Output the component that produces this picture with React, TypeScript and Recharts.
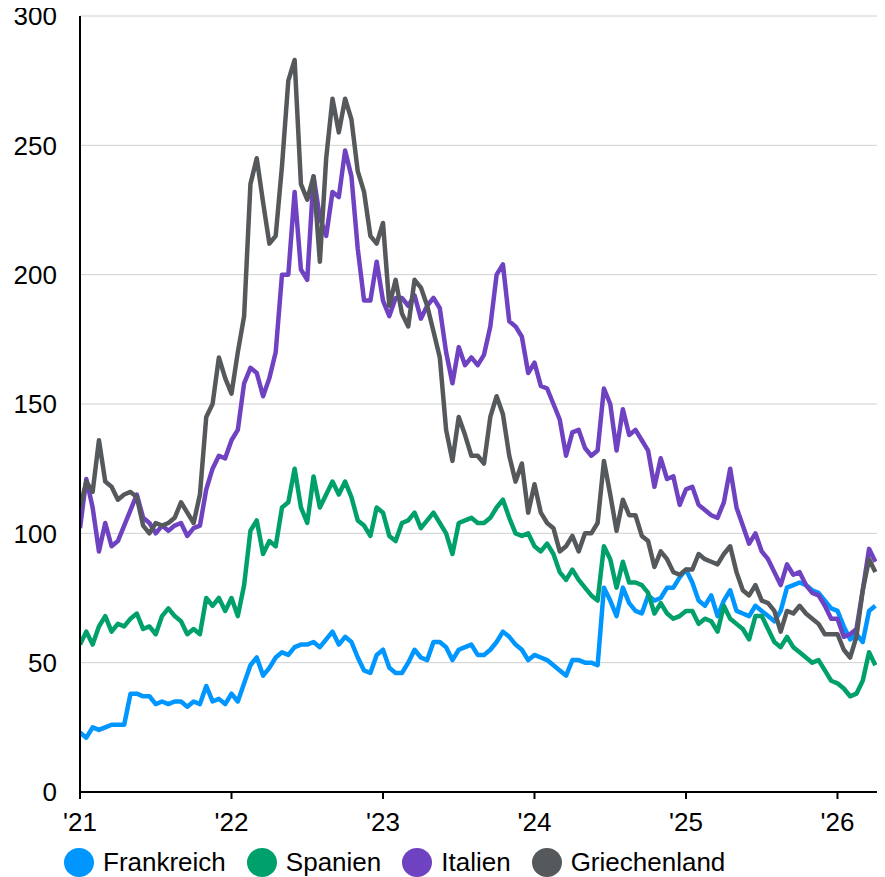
import { LineChart, Line, XAxis, YAxis, CartesianGrid } from "recharts";

const seriesNames = ["Frankreich", "Spanien", "Italien", "Griechenland"];
const seriesColors = ["#0096ff", "#00a06d", "#6f42c1", "#55595c"];
const yearTicks = [2021, 2022, 2023, 2024, 2025, 2026];
const yearLabels = ["'21", "'22", "'23", "'24", "'25", "'26"];
const valueTicks = [0, 50, 100, 150, 200, 250, 300];

// half-monthly readings, Jan 2021 .. Apr 2026
const frankreich = [
  23, 21, 25, 24, 25, 26, 26, 26, 38, 38,
  37, 37, 34, 35, 34, 35, 35, 33, 35, 34,
  41, 35, 36, 34, 38, 35, 42, 49, 52, 45,
  48, 52, 54, 53, 56, 57, 57, 58, 56, 59,
  62, 57, 60, 58, 52, 47, 46, 53, 55, 48,
  46, 46, 50, 55, 52, 51, 58, 58, 56, 51,
  55, 56, 57, 53, 53, 55, 58, 62, 60, 57,
  55, 51, 53, 52, 51, 49, 47, 45, 51, 51,
  50, 50, 49, 79, 74, 68, 79, 73, 70, 69,
  76, 74, 75, 79, 79, 83, 86, 81, 74, 72,
  76, 68, 74, 78, 70, 69, 68, 72, 70, 68,
  66, 70, 79, 80, 81, 80, 78, 77, 74, 71,
  70, 64, 59, 61, 58, 70, 72,
];
const spanien = [
  57, 62, 57, 64, 68, 62, 65, 64, 67, 69,
  63, 64, 61, 68, 71, 68, 66, 61, 63, 61,
  75, 72, 75, 70, 75, 68, 80, 101, 105, 92,
  97, 95, 110, 112, 125, 110, 104, 122, 110, 115,
  120, 115, 120, 114, 105, 103, 99, 110, 108, 99,
  97, 104, 105, 108, 102, 105, 108, 104, 100, 92,
  104, 105, 106, 104, 104, 106, 110, 113, 106, 100,
  99, 100, 95, 93, 96, 92, 85, 82, 86, 82,
  79, 76, 74, 95, 90, 79, 89, 81, 81, 80,
  77, 69, 73, 69, 67, 68, 70, 70, 65, 67,
  66, 62, 72, 67, 65, 63, 59, 68, 68, 63,
  58, 56, 60, 56, 54, 52, 50, 51, 47, 43,
  42, 40, 37, 38, 43, 54, 49,
];
const italien = [
  102, 121, 110, 93, 104, 95, 97, 103, 109, 115,
  106, 104, 100, 103, 101, 103, 104, 99, 102, 103,
  117, 125, 130, 129, 136, 140, 158, 164, 162, 153,
  160, 170, 200, 200, 232, 202, 198, 238, 222, 215,
  232, 230, 248, 238, 210, 190, 190, 205, 190, 184,
  191, 191, 188, 192, 183, 188, 191, 187, 170, 158,
  172, 165, 168, 165, 169, 180, 200, 204, 182, 180,
  176, 162, 166, 157, 156, 150, 144, 130, 139, 140,
  133, 130, 132, 156, 150, 132, 148, 138, 140, 136,
  132, 118, 129, 121, 122, 111, 117, 118, 111, 109,
  107, 106, 112, 125, 110, 103, 96, 100, 93, 90,
  85, 80, 88, 84, 85, 80, 77, 76, 72, 67,
  67, 60, 61, 63, 78, 94, 89,
];
const griechenland = [
  110, 120, 116, 136, 120, 118, 113, 115, 116, 114,
  103, 100, 104, 103, 104, 106, 112, 108, 104, 115,
  145, 150, 168, 160, 154, 170, 184, 235, 245, 228,
  212, 215, 242, 275, 283, 235, 229, 238, 205, 245,
  268, 255, 268, 260, 240, 232, 215, 212, 220, 188,
  198, 185, 180, 198, 195, 188, 178, 168, 140, 128,
  145, 138, 130, 130, 127, 145, 153, 146, 130, 120,
  127, 108, 119, 108, 104, 102, 93, 95, 99, 93,
  100, 100, 104, 128, 115, 101, 113, 107, 107, 99,
  97, 87, 93, 90, 85, 84, 86, 86, 92, 90,
  89, 88, 92, 95, 85, 78, 76, 80, 74, 73,
  70, 62, 70, 69, 72, 69, 67, 65, 61, 61,
  61, 55, 52, 60, 78, 90, 85,
];

const START = 2021;
const STEP = 1 / 24;

const rows = frankreich.map((_, i) => ({
  t: START + i * STEP,
  Frankreich: frankreich[i],
  Spanien: spanien[i],
  Italien: italien[i],
  Griechenland: griechenland[i],
}));

const FONT = "'Liberation Sans', Arial, Helvetica, sans-serif";
const tickStyle = { fontSize: 26, fill: "#000", fontFamily: FONT };

export default function App() {
  return (
    <div style={{ position: "relative", margin: "-8px 0 0 -8px", width: 885, height: 877, fontFamily: FONT }}>
      <LineChart width={885} height={845} data={rows} margin={{ top: 16, right: 6, bottom: 8, left: 0 }}>
        <CartesianGrid vertical={false} stroke="#d0d0d0" strokeWidth={1} />
        <XAxis
          dataKey="t"
          type="number"
          domain={[2021, 2026.274]}
          ticks={yearTicks}
          tickFormatter={(v) => yearLabels[yearTicks.indexOf(v)] ?? ""}
          height={45}
          tickSize={7}
          tickMargin={14}
          tick={tickStyle}
          axisLine={{ stroke: "#000", strokeWidth: 2 }}
          tickLine={{ stroke: "#000", strokeWidth: 2 }}
          allowDataOverflow
        />
        <YAxis
          domain={[0, 300]}
          ticks={valueTicks}
          width={80}
          tickLine={false}
          tickSize={0}
          tickMargin={23}
          tick={tickStyle}
          axisLine={{ stroke: "#000", strokeWidth: 2 }}
        />
        {seriesNames.map((name, i) => (
          <Line
            key={name}
            type="linear"
            dataKey={name}
            stroke={seriesColors[i]}
            strokeWidth={4.5}
            dot={false}
            strokeLinejoin="round"
            isAnimationActive={false}
          />
        ))}
      </LineChart>
      <div style={{ position: "absolute", left: 64, top: 847, display: "flex", alignItems: "center", height: 30 }}>
        {seriesNames.map((name, i) => (
          <div key={name} style={{ display: "flex", alignItems: "center", marginRight: 21 }}>
            <span
              style={{ width: 30, height: 29, borderRadius: "50%", background: seriesColors[i], display: "inline-block", marginRight: 9 }}
            />
            <span style={{ fontSize: 26, color: "#000", lineHeight: "30px" }}>{name}</span>
          </div>
        ))}
      </div>
    </div>
  );
}
